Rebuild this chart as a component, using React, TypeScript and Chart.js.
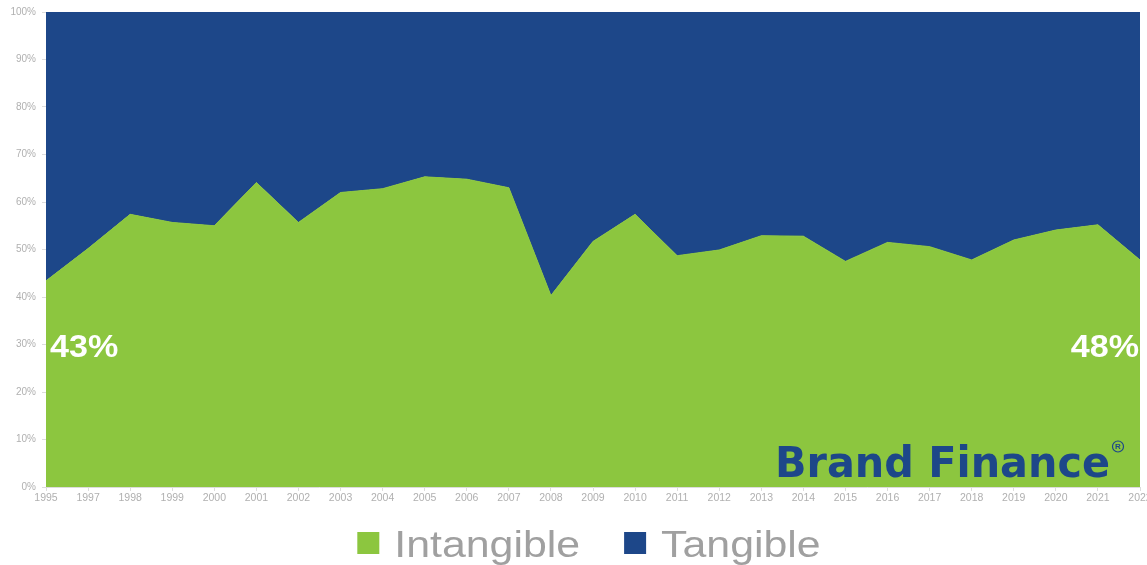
import React, { useEffect, useRef } from "react";
import { Chart, registerables } from "chart.js";

Chart.register(...registerables);

const years = [
  "1995", "1997", "1998", "1999", "2000", "2001", "2002", "2003", "2004",
  "2005", "2006", "2007", "2008", "2009", "2010", "2011", "2012", "2013",
  "2014", "2015", "2016", "2017", "2018", "2019", "2020", "2021", "2022",
];

const intangible = [
  43.4, 50.2, 57.4, 55.7, 55.0, 64.1, 55.7, 62.0, 62.8,
  65.3, 64.8, 63.0, 40.3, 51.7, 57.4, 48.7, 49.9, 52.9,
  52.8, 47.5, 51.5, 50.6, 47.8, 52.0, 54.1, 55.2, 47.8,
];

const tangible = [
  56.6, 49.8, 42.6, 44.3, 45.0, 35.9, 44.3, 38.0, 37.2,
  34.7, 35.2, 37.0, 59.7, 48.3, 42.6, 51.3, 50.1, 47.1,
  47.2, 52.5, 48.5, 49.4, 52.2, 48.0, 45.9, 44.8, 52.2,
];

const seriesNames = ["Intangible", "Tangible"];
const endLabels = ["43%", "48%"];
const logoText = "Brand Finance";

const GREEN = "#8CC63F";
const BLUE = "#1D4789";
const TICK_GRAY = "#b0b0b0";
const LEGEND_GRAY = "#a0a0a0";
const FONT = "'Liberation Sans', Arial, sans-serif";

function drawStretched(ctx: CanvasRenderingContext2D, text: string, x: number, y: number, sx: number, align: CanvasTextAlign) {
  ctx.save();
  ctx.translate(x, y);
  ctx.scale(sx, 1);
  ctx.textAlign = align;
  ctx.fillText(text, 0, 0);
  ctx.restore();
}

const overlayPlugin = {
  id: "overlay",
  afterDraw(chart: any) {
    const ctx: CanvasRenderingContext2D = chart.ctx;
    const area = chart.chartArea;
    const xs = chart.scales.x;
    const ys = chart.scales.y;
    ctx.save();
    ctx.textBaseline = "alphabetic";

    // end value labels
    ctx.fillStyle = "#ffffff";
    ctx.font = `bold 31px ${FONT}`;
    const ly = ys.getPixelForValue(27.4);
    drawStretched(ctx, endLabels[0], xs.getPixelForValue(0) + 4, ly, 1.1, "left");
    drawStretched(ctx, endLabels[1], xs.getPixelForValue(years.length - 1) - 1, ly, 1.1, "right");

    // logo
    ctx.fillStyle = BLUE;
    ctx.font = `bold 43px 'DejaVu Sans', sans-serif`;
    const lw = ctx.measureText(logoText).width;
    const targetW = 335;
    const lx = area.right - 365;
    const lby = area.bottom - 10.5;
    drawStretched(ctx, logoText, lx, lby, targetW / lw, "left");
    // registered mark
    const rx = lx + targetW + 8;
    const ry = lby - 30;
    ctx.strokeStyle = BLUE;
    ctx.lineWidth = 1.2;
    ctx.beginPath();
    ctx.arc(rx, ry, 5.5, 0, Math.PI * 2);
    ctx.stroke();
    ctx.font = `bold 8px ${FONT}`;
    ctx.textAlign = "center";
    ctx.textBaseline = "middle";
    ctx.fillText("R", rx, ry + 0.5);
    ctx.textBaseline = "alphabetic";

    // legend
    const ds = chart.data.datasets;
    const sx = 1.19;
    const box = 22;
    const gap = 15;
    const itemGap = 44;
    ctx.font = `36px ${FONT}`;
    const widths = ds.map((d: any) => ctx.measureText(d.label).width * sx);
    let total = 0;
    widths.forEach((w: number, i: number) => {
      total += box + gap + w + (i > 0 ? itemGap : 0);
    });
    let x = (area.left + area.right) / 2 - 4 - total / 2;
    const boxTop = area.bottom + 45;
    const base = area.bottom + 70;
    ds.forEach((d: any, i: number) => {
      ctx.fillStyle = d.backgroundColor;
      ctx.fillRect(x, boxTop, box, box);
      x += box + gap;
      ctx.fillStyle = LEGEND_GRAY;
      drawStretched(ctx, d.label, x, base, sx, "left");
      x += widths[i] + itemGap;
    });
    ctx.restore();
  },
};

export default function App() {
  const ref = useRef<HTMLCanvasElement | null>(null);

  useEffect(() => {
    if (!ref.current) return;
    const chart = new Chart(ref.current, {
      type: "line",
      data: {
        labels: years,
        datasets: [
          {
            label: seriesNames[0],
            data: intangible,
            backgroundColor: GREEN,
            borderColor: GREEN,
            borderWidth: 1,
            pointRadius: 0,
            tension: 0,
            fill: "origin",
          },
          {
            label: seriesNames[1],
            data: tangible,
            backgroundColor: BLUE,
            borderColor: BLUE,
            borderWidth: 1,
            pointRadius: 0,
            tension: 0,
            fill: "-1",
          },
        ],
      },
      options: {
        responsive: false,
        animation: false,
        layout: { padding: { left: 0, right: 20, top: 9, bottom: 56 } },
        plugins: {
          legend: { display: false },
          tooltip: { enabled: false },
        },
        scales: {
          x: {
            offset: false,
            grid: { display: true, drawOnChartArea: false, color: "#dcdcdc", tickLength: 4 },
            border: { display: true, color: "#dcdcdc" },
            ticks: {
              autoSkip: false,
              maxRotation: 0,
              padding: 1,
              color: TICK_GRAY,
              font: { family: FONT, size: 10.5 },
            },
            afterFit: (s: any) => {
              s.height = 22;
            },
          },
          y: {
            stacked: true,
            min: 0,
            max: 100,
            grid: { display: true, drawOnChartArea: false, color: "#dcdcdc", tickLength: 4 },
            border: { display: true, color: "#dcdcdc" },
            ticks: {
              stepSize: 10,
              padding: 6,
              color: TICK_GRAY,
              font: { family: FONT, size: 10 },
              callback: (v: any) => `${v}%`,
            },
            afterFit: (s: any) => {
              s.width = 46;
            },
          },
        },
      },
      plugins: [overlayPlugin],
    });
    return () => chart.destroy();
  }, []);

  return (
    <div style={{ position: "absolute", left: 0, top: 0, width: 1147, height: 565, overflow: "hidden", background: "#fff" }}>
      <canvas ref={ref} width={1160} height={565} style={{ display: "block" }} />
    </div>
  );
}
